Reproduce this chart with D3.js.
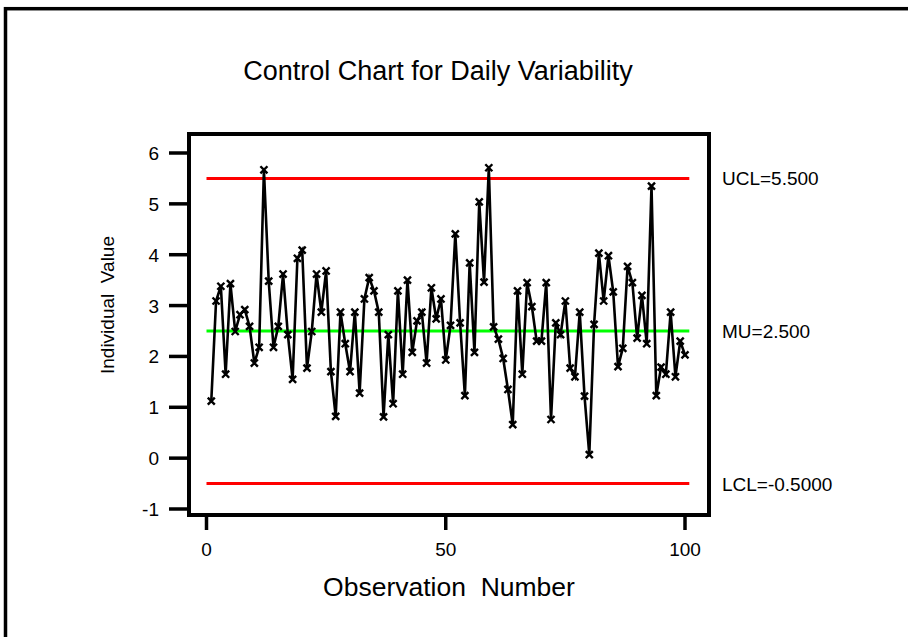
<!DOCTYPE html>
<html lang="en">
  <head>
    <meta charset="UTF-8" />
    <title>Control Chart for Daily Variability</title>
    <style>
      body {
        margin: 0;
        background: #fff;
      }
      svg {
        display: block;
        font-family: "Liberation Sans", Arial, sans-serif;
      }
    </style>
  </head>

  <body>
    <script src="https://cdn.jsdelivr.net/npm/d3@7"></script>
    <script>
      // observation values (obs 1..100)
      const valeurs = [
        1.12, 3.09, 3.38, 1.65, 3.43, 2.49, 2.82, 2.92, 2.59, 1.87,
        2.18, 5.67, 3.48, 2.18, 2.59, 3.62, 2.43, 1.55, 3.93, 4.09,
        1.77, 2.49, 3.62, 2.87, 3.68, 1.7, 0.82, 2.87, 2.25, 1.7,
        2.87, 1.28, 3.13, 3.55, 3.29, 2.87, 0.81, 2.43, 1.07, 3.29,
        1.65, 3.5, 2.08, 2.7, 2.87, 1.87, 3.35, 2.74, 3.13, 1.93,
        2.61, 4.41, 2.66, 1.23, 3.84, 2.08, 5.04, 3.46, 5.71, 2.58,
        2.34, 1.96, 1.35, 0.66, 3.29, 1.65, 3.45, 2.98, 2.3, 2.3,
        3.45, 0.76, 2.66, 2.43, 3.09, 1.77, 1.6, 2.87, 1.22, 0.07,
        2.63, 4.03, 3.09, 3.98, 3.27, 1.8, 2.16, 3.77, 3.45, 2.36,
        3.2, 2.25, 5.35, 1.23, 1.79, 1.65, 2.87, 1.6, 2.3, 2.03,
      ];

      // control limits
      const limites = [
        { nom: "UCL=5.500", valeur: 5.5, couleur: "#ff0000" },
        { nom: "MU=2.500", valeur: 2.5, couleur: "#00ff00" },
        { nom: "LCL=-0.5000", valeur: -0.5, couleur: "#ff0000" },
      ];

      const ticks_x = [0, 50, 100];
      const ticks_y = [-1, 0, 1, 2, 3, 4, 5, 6];

      const largeur = 908;
      const hauteur = 637;

      const svg = d3
        .select("body")
        .append("svg")
        .attr("width", largeur)
        .attr("height", hauteur);

      // outer frame (runs off the right and bottom edges)
      svg
        .append("rect")
        .attr("x", 5.5)
        .attr("y", 8.7)
        .attr("width", 1000)
        .attr("height", 1000)
        .attr("fill", "none")
        .attr("stroke", "#000")
        .attr("stroke-width", 3.5);

      // plot box
      const cadre = { gauche: 189, haut: 134, droite: 709, bas: 515 };

      const x = d3.scaleLinear().domain([0, 100]).range([206.5, 685]);
      const y = d3.scaleLinear().domain([-1, 6]).range([509, 153]);

      svg
        .append("text")
        .attr("x", 438)
        .attr("y", 80)
        .attr("text-anchor", "middle")
        .attr("font-size", 27)
        .text("Control Chart for Daily Variability");

      // y axis ticks
      const axeY = svg.append("g");
      axeY
        .selectAll("line")
        .data(ticks_y)
        .enter()
        .append("line")
        .attr("x1", 169)
        .attr("x2", cadre.gauche)
        .attr("y1", (d) => y(d))
        .attr("y2", (d) => y(d))
        .attr("stroke", "#000")
        .attr("stroke-width", 3.5);
      axeY
        .selectAll("text")
        .data(ticks_y)
        .enter()
        .append("text")
        .attr("x", 159)
        .attr("y", (d) => y(d) + 7)
        .attr("text-anchor", "end")
        .attr("font-size", 19)
        .text((d) => d);

      // x axis ticks
      const axeX = svg.append("g");
      axeX
        .selectAll("line")
        .data(ticks_x)
        .enter()
        .append("line")
        .attr("x1", (d) => x(d))
        .attr("x2", (d) => x(d))
        .attr("y1", cadre.bas)
        .attr("y2", 530)
        .attr("stroke", "#000")
        .attr("stroke-width", 3.5);
      axeX
        .selectAll("text")
        .data(ticks_x)
        .enter()
        .append("text")
        .attr("x", (d) => x(d))
        .attr("y", 556)
        .attr("text-anchor", "middle")
        .attr("font-size", 19)
        .text((d) => d);

      svg
        .append("text")
        .attr("x", 449)
        .attr("y", 596)
        .attr("text-anchor", "middle")
        .attr("font-size", 26.5)
        .style("white-space", "pre")
        .text("Observation  Number");

      svg
        .append("text")
        .attr("transform", "translate(114, 305) rotate(-90)")
        .attr("text-anchor", "middle")
        .attr("font-size", 19)
        .style("white-space", "pre")
        .text("Individual  Value");

      // control lines
      const g_limites = svg.append("g");
      g_limites
        .selectAll("line")
        .data(limites)
        .enter()
        .append("line")
        .attr("x1", x(0))
        .attr("x2", x(100.9))
        .attr("y1", (d) => y(d.valeur))
        .attr("y2", (d) => y(d.valeur))
        .attr("stroke", (d) => d.couleur)
        .attr("stroke-width", 3);
      g_limites
        .selectAll("text")
        .data(limites)
        .enter()
        .append("text")
        .attr("x", 722)
        .attr("y", (d) => y(d.valeur) + 7)
        .attr("font-size", 19)
        .text((d) => d.nom);

      // the series
      const ligne = d3
        .line()
        .x((d, i) => x(i + 1))
        .y((d) => y(d));

      svg
        .append("path")
        .datum(valeurs)
        .attr("d", ligne)
        .attr("fill", "none")
        .attr("stroke", "#000")
        .attr("stroke-width", 2.6)
        .attr("stroke-linejoin", "miter");

      const marqueur = d3.symbol().type(d3.symbolTimes).size(34);
      svg
        .append("g")
        .selectAll("path")
        .data(valeurs)
        .enter()
        .append("path")
        .attr("transform", (d, i) => `translate(${x(i + 1)}, ${y(d)})`)
        .attr("d", marqueur)
        .attr("fill", "none")
        .attr("stroke", "#000")
        .attr("stroke-width", 2.4);

      // plot box drawn last
      svg
        .append("path")
        .attr(
          "d",
          `M${cadre.gauche},${cadre.haut}H${cadre.droite}V${cadre.bas}H${cadre.gauche}Z`
        )
        .attr("fill", "none")
        .attr("stroke", "#000")
        .attr("stroke-width", 4);
    </script>
  </body>
</html>
